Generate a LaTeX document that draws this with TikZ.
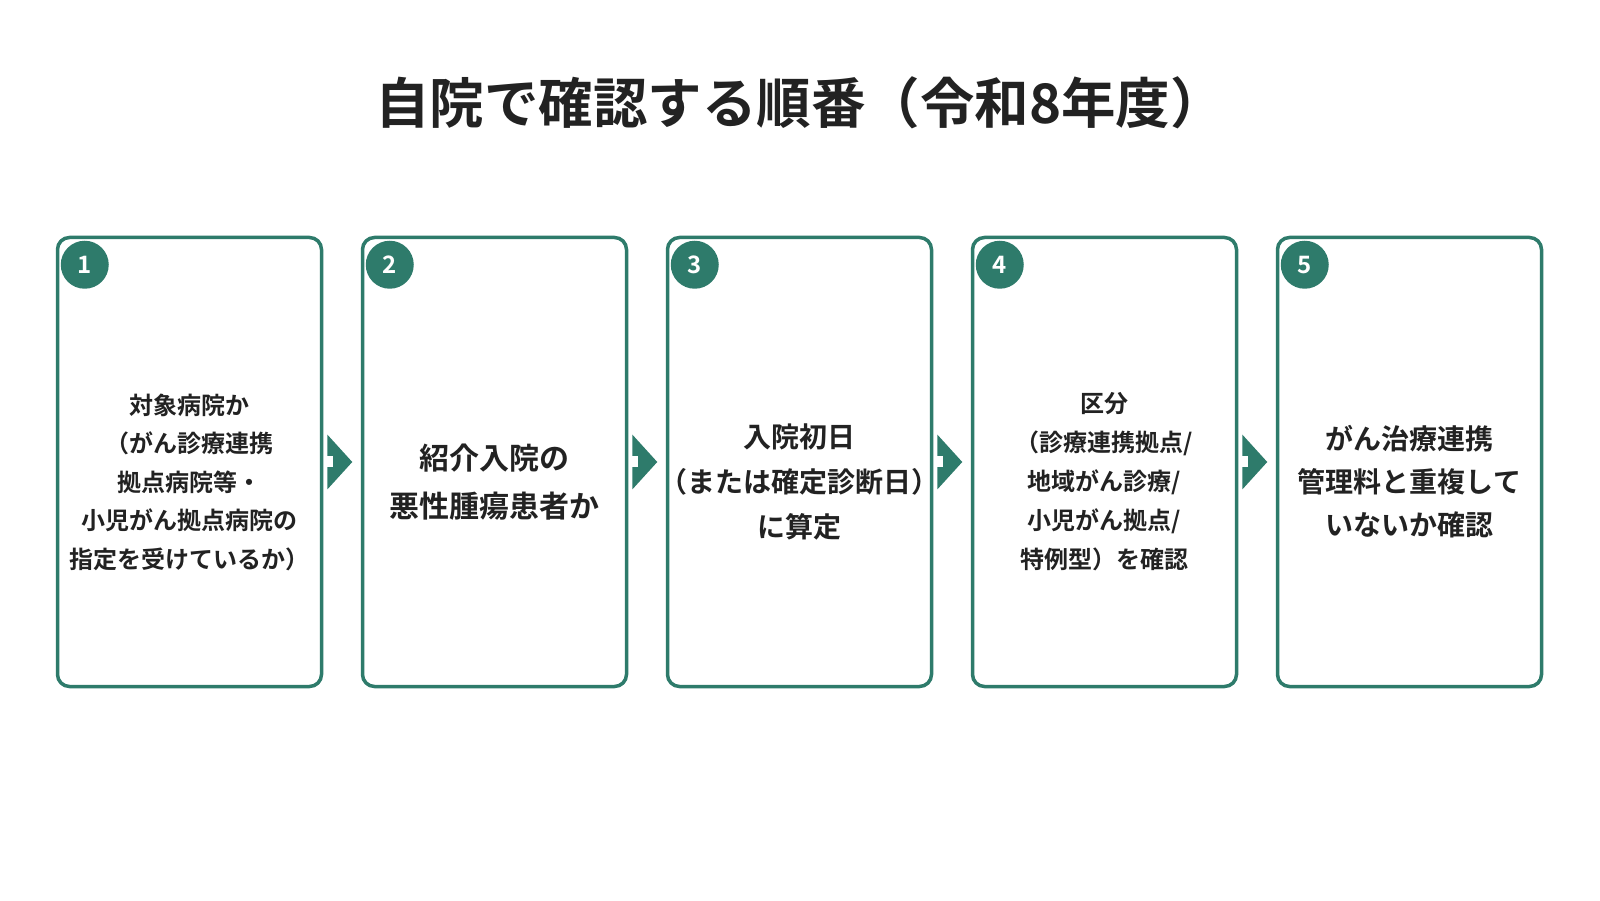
\documentclass[tikz,border=0pt]{standalone}
\usepackage{fontspec}
\setmainfont{Noto Sans CJK JP}[BoldFont={Noto Sans CJK JP Bold}]
\usetikzlibrary{calc}
\definecolor{stepgreen}{HTML}{2E7B6B}
\definecolor{ink}{HTML}{222222}
\tikzset{card/.style={draw=stepgreen,line width=3.5pt,rounded corners=12pt,minimum width=264pt,minimum height=449pt,inner sep=0pt},
  num/.style={circle,fill=stepgreen,text=white,minimum size=48pt,inner sep=0pt,font=\fontsize{24}{24}\selectfont\bfseries},
  body/.style={align=center,text=ink}}
\newcommand\stepcard[6]{\node[card] (#1) at (#2,438) {};
  \node[num] (#1n) at ($(#1.north west)+(29,-29)$) {#3};
  \node[body,font=\fontsize{#4}{#5}\selectfont\bfseries] (#1t) at ($(#1.center)+(0,-20)$) {#6};}

\begin{document}
\begin{tikzpicture}[x=1pt,y=1pt]
\useasboundingbox (0,0) rectangle (1600,900);
\node[text=ink,font=\fontsize{54.5}{54.5}\selectfont\bfseries] (title) at (800,797) {自院で確認する順番（令和8年度）};
\stepcard{c1}{189.5}{1}{24}{38.5}{対象病院か\\（がん診療連携\\拠点病院等・\\小児がん拠点病院の\\指定を受けているか）}
\stepcard{c2}{494.5}{2}{30}{48}{紹介入院の\\悪性腫瘍患者か}
\stepcard{c3}{799.5}{3}{28}{45}{入院初日\\（または確定診断日）\\に算定}
\stepcard{c4}{1104.5}{4}{24}{39}{区分\\（診療連携拠点/\\地域がん診療/\\小児がん拠点/\\特例型）を確認}
\stepcard{c5}{1409.5}{5}{28}{43}{がん治療連携\\管理料と重複して\\いないか確認}
\foreach \a in {c1,c2,c3,c4} {
  \fill[stepgreen] ($(\a.east)+(4,27.5)$) -- ($(\a.east)+(29,0)$) -- ($(\a.east)+(4,-27.5)$) -- cycle;
  \fill[white] ($(\a.east)+(4,5.5)$) rectangle ($(\a.east)+(10,-5.5)$);
}
\end{tikzpicture}
\end{document}
